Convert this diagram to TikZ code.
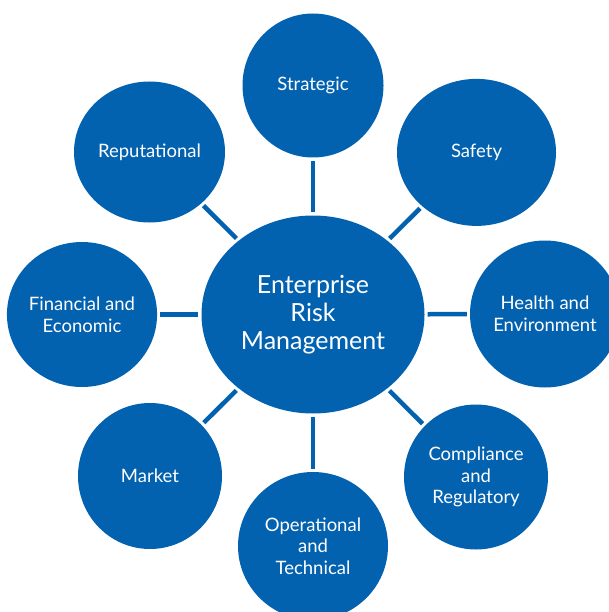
\documentclass[tikz,border=0pt]{standalone}
\usepackage{fontspec}
\setmainfont{Lato}
\usetikzlibrary{shapes.geometric}
\definecolor{riskblue}{RGB}{3,98,176}
\tikzset{
	riskbubble/.style={ellipse,fill=riskblue,text=white,inner sep=0pt,align=center,
		font=\fontsize{18.5}{21.5}\selectfont},
	link/.style={draw=riskblue,line width=4.5pt,shorten <=3pt,shorten >=3pt}
}
\begin{document}
\begin{tikzpicture}[x=1pt,y=-1pt]
	\useasboundingbox (0,0) rectangle (609,612);

	\node[riskbubble,minimum width=223pt,minimum height=198pt,font=\fontsize{25}{28}\selectfont] (erm) at (313,314.5) {Enterprise\\Risk\\Management};

	\node[riskbubble,minimum width=141pt,minimum height=144pt] (strategic) at (313,85.5) {Strategic};
	\node[riskbubble,minimum width=159pt,minimum height=147pt] (safety) at (476.5,152.4) {Safety};
	\node[riskbubble,minimum width=150pt,minimum height=147pt] (health) at (545,314) {Health and\\Environment};
	\node[riskbubble,minimum width=144pt,minimum height=145pt] (compliance) at (476,477) {Compliance\\and\\Regulatory};
	\node[riskbubble,minimum width=150pt,minimum height=148pt] (operational) at (313,546) {Operational\\and\\Technical};
	\node[riskbubble,minimum width=144pt,minimum height=146pt] (market) at (150,476) {Market};
	\node[riskbubble,minimum width=149pt,minimum height=145pt] (financial) at (82,314.5) {Financial and\\Economic};
	\node[riskbubble,minimum width=151pt,minimum height=141pt] (reputational) at (149.5,152) {Reputational};

	\foreach \outer in {strategic,safety,health,compliance,operational,market,financial,reputational}
		\draw[link] (erm) -- (\outer);
\end{tikzpicture}
\end{document}
